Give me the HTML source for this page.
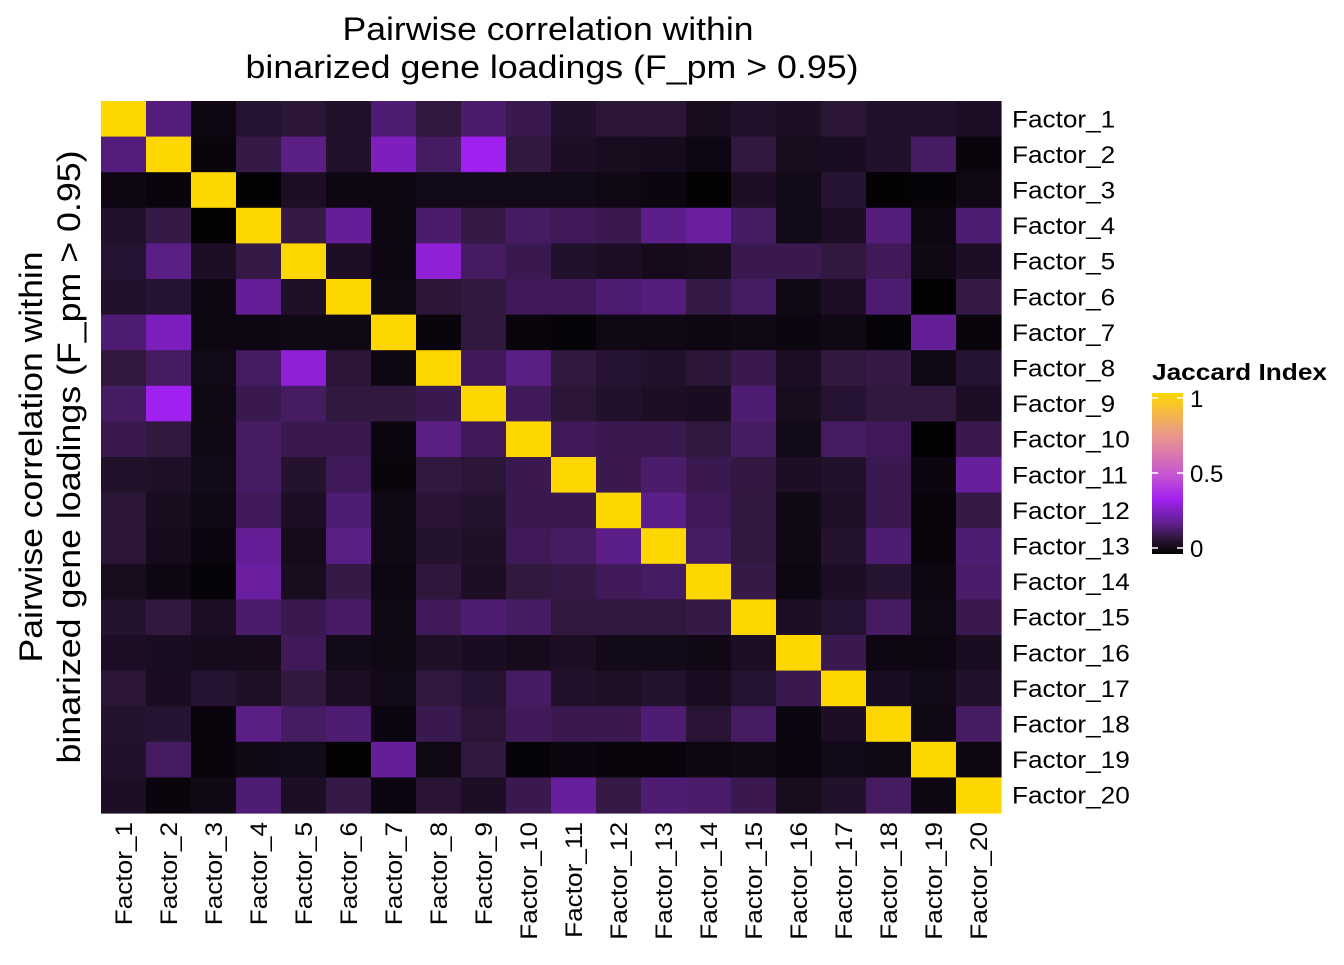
<!DOCTYPE html>
<html><head><meta charset="utf-8"><style>
body{margin:0;background:#fff;}
svg text{font-family:"Liberation Sans",sans-serif;fill:#000;}
</style></head><body>
<svg id="chart" width="1344" height="960" viewBox="0 0 1344 960" xmlns="http://www.w3.org/2000/svg">
<defs>
<linearGradient id="lg" x1="0" y1="1" x2="0" y2="0">
<stop offset="0" stop-color="#000000"/>
<stop offset="0.10" stop-color="#30183e"/>
<stop offset="0.20" stop-color="#641f96"/>
<stop offset="0.34" stop-color="#a020f0"/>
<stop offset="0.5" stop-color="#c858d0"/>
<stop offset="0.75" stop-color="#eb9a88"/>
<stop offset="1" stop-color="#ffd700"/>
</linearGradient>
</defs>
<text x="548" y="40" font-size="32" text-anchor="middle" textLength="411" lengthAdjust="spacingAndGlyphs">Pairwise correlation within</text>
<text x="552" y="78" font-size="32" text-anchor="middle" textLength="613" lengthAdjust="spacingAndGlyphs">binarized gene loadings (F_pm &gt; 0.95)</text>
<g transform="translate(0,457) rotate(-90)">
<text x="0" y="42" font-size="32" text-anchor="middle" textLength="411" lengthAdjust="spacingAndGlyphs">Pairwise correlation within</text>
<text x="0" y="80" font-size="32" text-anchor="middle" textLength="613" lengthAdjust="spacingAndGlyphs">binarized gene loadings (F_pm &gt; 0.95)</text>
</g>
<g id="cells"></g>
<g id="ylabels"></g>
<g id="xlabels"></g>
<g>
<text x="1152" y="380" font-size="23" font-weight="bold" textLength="175" lengthAdjust="spacingAndGlyphs">Jaccard Index</text>
<rect x="1152" y="393" width="31" height="161" fill="url(#lg)"/>
<g stroke="#fff" stroke-width="1.5">
<line x1="1152" y1="398" x2="1158" y2="398"/><line x1="1177" y1="398" x2="1183" y2="398"/>
<line x1="1152" y1="473" x2="1158" y2="473"/><line x1="1177" y1="473" x2="1183" y2="473"/>
<line x1="1152" y1="548" x2="1158" y2="548"/><line x1="1177" y1="548" x2="1183" y2="548"/>
</g>
<text x="1190" y="407" font-size="24">1</text>
<text x="1190" y="482" font-size="24">0.5</text>
<text x="1190" y="557" font-size="24">0</text>
</g>
</svg>
<script>
const factors = ["Factor_1","Factor_2","Factor_3","Factor_4","Factor_5","Factor_6","Factor_7","Factor_8","Factor_9","Factor_10","Factor_11","Factor_12","Factor_13","Factor_14","Factor_15","Factor_16","Factor_17","Factor_18","Factor_19","Factor_20"];
const row1 = [1,0.17,0.03,0.08,0.09,0.07,0.16,0.1,0.15,0.12,0.07,0.09,0.09,0.05,0.07,0.06,0.09,0.07,0.07,0.06];
const row2 = [0.17,1,0.02,0.11,0.18,0.07,0.26,0.14,0.34,0.1,0.06,0.05,0.045,0.03,0.1,0.05,0.055,0.07,0.14,0.02];
const row3 = [0.03,0.02,1,0.01,0.06,0.03,0.03,0.04,0.04,0.04,0.04,0.035,0.025,0.01,0.06,0.04,0.08,0.01,0.015,0.035];
const row4 = [0.07,0.11,0.01,1,0.11,0.2,0.03,0.15,0.11,0.14,0.13,0.12,0.185,0.215,0.14,0.04,0.06,0.17,0.03,0.16];
const row5 = [0.08,0.18,0.06,0.11,1,0.06,0.03,0.3,0.14,0.12,0.07,0.06,0.045,0.05,0.12,0.12,0.1,0.13,0.035,0.06];
const row6 = [0.07,0.08,0.03,0.2,0.065,1,0.035,0.09,0.1,0.13,0.13,0.155,0.17,0.11,0.14,0.035,0.06,0.16,0.01,0.11];
const row7 = [0.16,0.26,0.03,0.03,0.035,0.035,1,0.02,0.1,0.02,0.015,0.035,0.035,0.03,0.035,0.025,0.035,0.015,0.2,0.02];
const row8 = [0.1,0.14,0.04,0.14,0.3,0.09,0.03,1,0.13,0.18,0.1,0.08,0.07,0.09,0.12,0.06,0.1,0.11,0.035,0.08];
const row9 = [0.14,0.34,0.035,0.12,0.14,0.1,0.1,0.12,1,0.13,0.09,0.07,0.06,0.055,0.16,0.05,0.08,0.1,0.1,0.06];
const row10 = [0.12,0.1,0.035,0.14,0.12,0.12,0.025,0.18,0.13,1,0.13,0.12,0.12,0.1,0.14,0.04,0.14,0.13,0.01,0.12];
const row11 = [0.07,0.065,0.04,0.14,0.075,0.13,0.02,0.1,0.09,0.12,1,0.12,0.15,0.12,0.105,0.06,0.07,0.12,0.025,0.21];
const row12 = [0.09,0.05,0.035,0.13,0.06,0.16,0.035,0.085,0.075,0.12,0.12,1,0.185,0.13,0.1,0.035,0.065,0.12,0.02,0.11];
const row13 = [0.09,0.045,0.025,0.2,0.045,0.18,0.035,0.075,0.065,0.13,0.14,0.185,1,0.14,0.1,0.035,0.075,0.16,0.02,0.16];
const row14 = [0.05,0.03,0.015,0.215,0.05,0.11,0.03,0.095,0.06,0.1,0.11,0.13,0.14,1,0.11,0.03,0.06,0.08,0.03,0.15];
const row15 = [0.075,0.1,0.06,0.15,0.12,0.145,0.035,0.13,0.16,0.14,0.1,0.1,0.1,0.11,1,0.06,0.08,0.14,0.035,0.12];
const row16 = [0.06,0.055,0.045,0.045,0.13,0.04,0.035,0.065,0.055,0.045,0.06,0.04,0.04,0.035,0.06,1,0.12,0.03,0.03,0.055];
const row17 = [0.09,0.055,0.08,0.065,0.1,0.06,0.04,0.1,0.08,0.14,0.07,0.065,0.075,0.055,0.08,0.12,1,0.055,0.04,0.07];
const row18 = [0.075,0.08,0.02,0.18,0.14,0.16,0.025,0.12,0.09,0.13,0.12,0.12,0.16,0.085,0.14,0.025,0.06,1,0.035,0.14];
const row19 = [0.07,0.14,0.02,0.035,0.04,0.01,0.2,0.035,0.1,0.015,0.025,0.02,0.02,0.03,0.035,0.025,0.04,0.035,1,0.03];
const row20 = [0.06,0.02,0.035,0.16,0.06,0.11,0.025,0.085,0.06,0.12,0.21,0.11,0.16,0.15,0.12,0.05,0.07,0.14,0.03,1];
const matrix = [row1,row2,row3,row4,row5,row6,row7,row8,row9,row10,row11,row12,row13,row14,row15,row16,row17,row18,row19,row20];

const X0 = 101, X1 = 1001, Y0 = 101, Y1 = 813;
const cw = (X1 - X0) / factors.length, ch = (Y1 - Y0) / factors.length;
function xPos(j){ return X0 + j * cw; }
function yPos(i){ return Y0 + i * ch; }
const stops = [[0,[0,0,0]],[0.10,[0x30,0x18,0x3e]],[0.20,[0x64,0x1f,0x96]],[0.34,[0xa0,0x20,0xf0]],[0.5,[0xc8,0x58,0xd0]],[0.75,[0xeb,0x9a,0x88]],[1,[0xff,0xd7,0x00]]];
function color(v){
  v = Math.max(0, Math.min(1, v));
  for (let k = 1; k < stops.length; k++){
    if (v <= stops[k][0]){
      const a = stops[k-1], b = stops[k];
      const t = (v - a[0]) / (b[0] - a[0]);
      const c = a[1].map((x, n) => Math.round(x + (b[1][n] - x) * t));
      return "rgb(" + c.join(",") + ")";
    }
  }
  return "rgb(255,215,0)";
}
const NS = "http://www.w3.org/2000/svg";
const cells = document.getElementById("cells");
matrix.forEach((row, i) => {
  row.forEach((v, j) => {
    const r = document.createElementNS(NS, "rect");
    r.setAttribute("x", xPos(j));
    r.setAttribute("y", yPos(i));
    r.setAttribute("width", cw + 0.6);
    r.setAttribute("height", ch + 0.6);
    r.setAttribute("fill", color(v));
    
    
    cells.appendChild(r);
  });
});
const yl = document.getElementById("ylabels");
const xl = document.getElementById("xlabels");
const stretch = 1.09;
factors.forEach((f, i) => {
  const t = document.createElementNS(NS, "text");
  t.setAttribute("x", 1012);
  t.setAttribute("y", yPos(i) + ch / 2 + 8.5);
  t.setAttribute("font-size", "24");
  t.textContent = f;
  
  
  yl.appendChild(t);
  t.setAttribute("textLength", t.getComputedTextLength() * stretch);
  t.setAttribute("lengthAdjust", "spacingAndGlyphs");
  const u = document.createElementNS(NS, "text");
  const cx = xPos(i) + cw / 2 + 8.5;
  u.setAttribute("transform", "translate(" + cx + ",822) rotate(-90)");
  u.setAttribute("text-anchor", "end");
  u.setAttribute("font-size", "24");
  u.textContent = f;
  
  
  xl.appendChild(u);
  u.setAttribute("textLength", u.getComputedTextLength() * stretch);
  u.setAttribute("lengthAdjust", "spacingAndGlyphs");
});
</script>
</body></html>
